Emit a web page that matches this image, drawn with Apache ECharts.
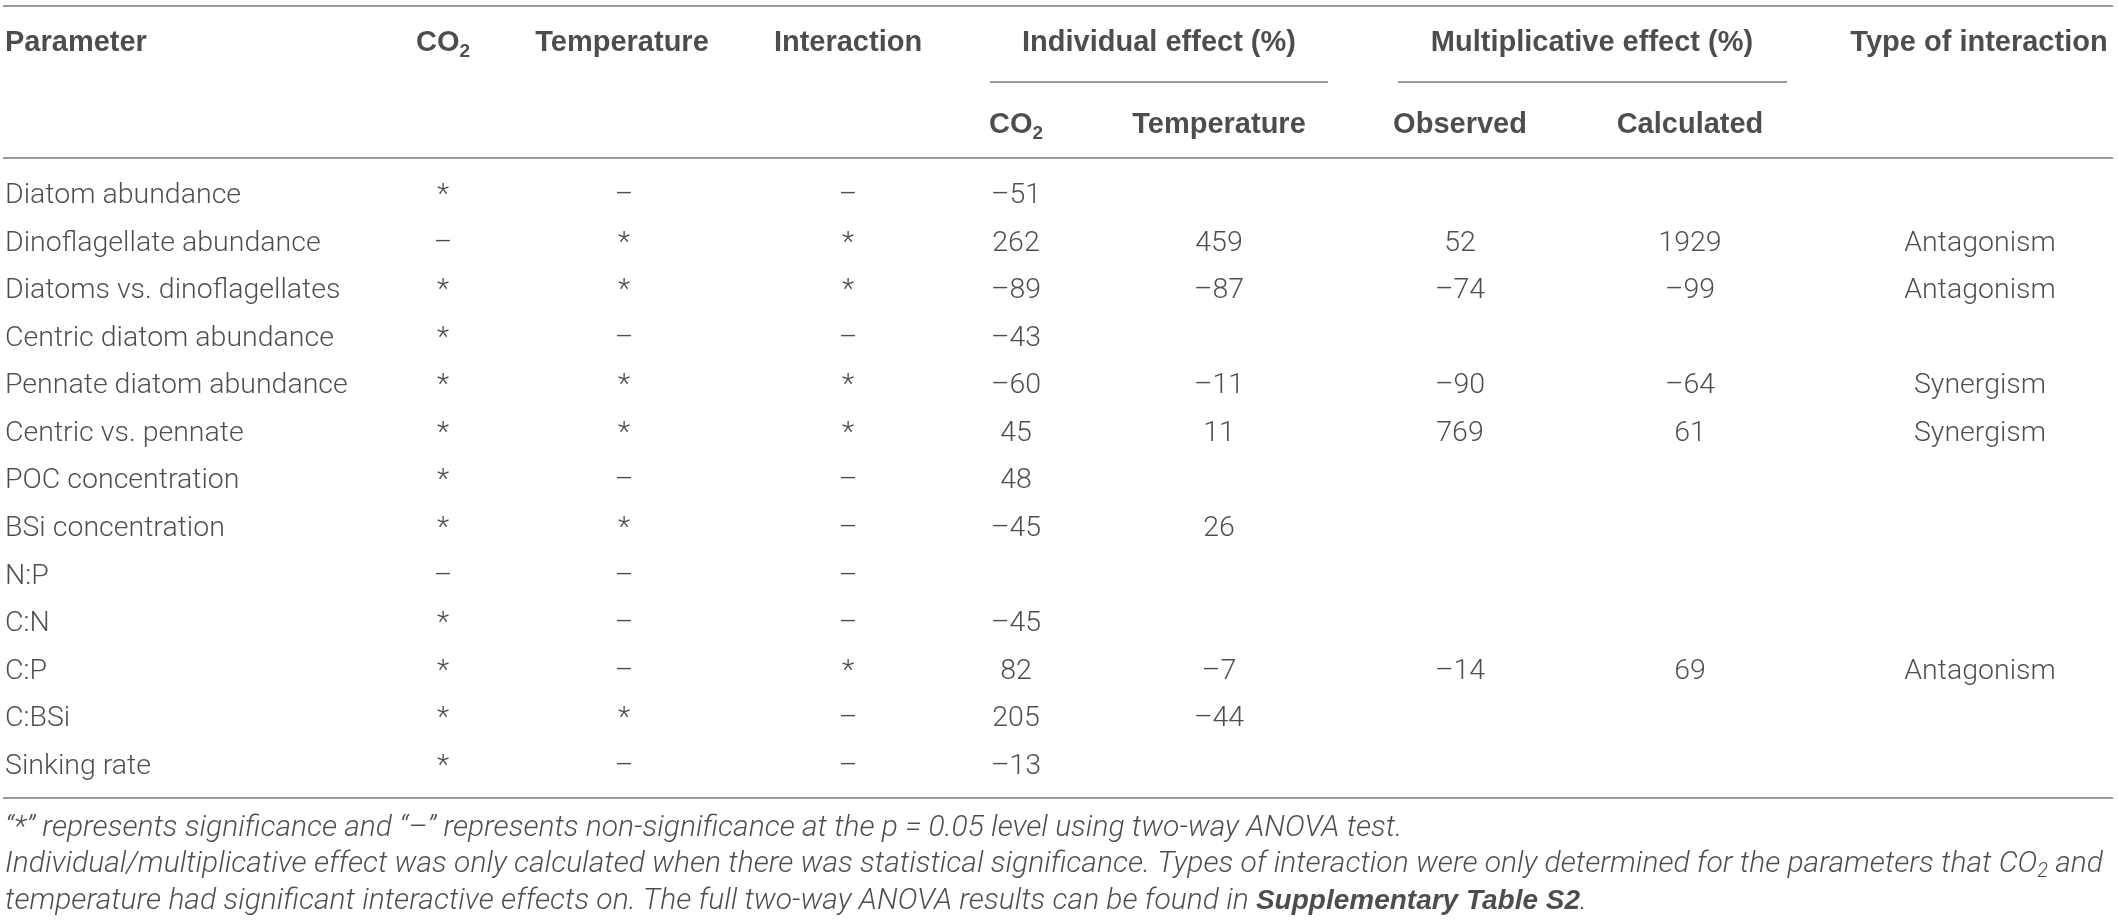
<!DOCTYPE html>
<html>
<head>
<meta charset="utf-8">
<script src="https://cdn.jsdelivr.net/npm/echarts@6/dist/echarts.min.js"></script>
<style>
html,body{margin:0;padding:0;background:#fff;}
#chart{width:2118px;height:921px;}
</style>
</head>
<body>
<div id="chart"></div>
<script>
// ---------- DATA ----------
const parameters = ['Diatom abundance','Dinoflagellate abundance','Diatoms vs. dinoflagellates','Centric diatom abundance','Pennate diatom abundance','Centric vs. pennate','POC concentration','BSi concentration','N:P','C:N','C:P','C:BSi','Sinking rate'];
const sigCO2 = ['*','–','*','*','*','*','*','*','–','*','*','*','*'];
const sigTemp = ['–','*','*','–','*','*','–','*','–','–','–','*','–'];
const sigInteraction = ['–','*','*','–','*','*','–','–','–','–','*','–','–'];
const indivCO2 = [-51,262,-89,-43,-60,45,48,-45,null,-45,82,205,-13];
const indivTemp = [null,459,-87,null,-11,11,null,26,null,null,-7,-44,null];
const multObserved = [null,52,-74,null,-90,769,null,null,null,null,-14,null,null];
const multCalculated = [null,1929,-99,null,-64,61,null,null,null,null,69,null,null];
const interactionType = ['','Antagonism','Antagonism','','Synergism','Synergism','','','','','Antagonism','',''];

const headerTop = ['Parameter','{b|CO}{bs|2}','Temperature','Interaction','Individual effect (%)','Multiplicative effect (%)','Type of interaction'];
const headerSub = ['{b|CO}{bs|2}','Temperature','Observed','Calculated'];
const footnotes = [
  '{i|“*” represents significance and “–” represents non-significance at the p = 0.05 level using two-way ANOVA test.}',
  '{i|Individual/multiplicative effect was only calculated when there was statistical significance. Types of interaction were only determined for the parameters that CO}{is|2}{i| and}',
  '{i|temperature had significant interactive effects on. The full two-way ANOVA results can be found in }{bi|Supplementary Table S2}{i|.}'
];

// ---------- LAYOUT ----------
const W = 2118, H = 921;
const colX = [5, 443, 624, 848, 1016, 1219, 1460, 1690, 1980];
const headerTopX = [5, 443, 622, 848, 1159, 1592, 1979];
const headerSubX = [1016, 1219, 1460, 1690];
const Y_HEAD1 = 43, Y_HEAD2 = 125, ROW0 = 196, ROWSTEP = 47.55;
const footY = [828, 864, 901];
const rules = [
  {x0: 3, x1: 2113, y: 6},
  {x0: 990, x1: 1328, y: 82},
  {x0: 1398, x1: 1787, y: 82},
  {x0: 3, x1: 2113, y: 158},
  {x0: 3, x1: 2113, y: 798}
];

const FONT = '"Liberation Sans", Arial, Helvetica, sans-serif';
const LIGHT = 'Roboto, "Liberation Sans", Arial, sans-serif';
const TXT = '#231f20';

const fmt = v => v == null ? '' : (v < 0 ? '–' + Math.abs(v) : String(v));

const bodyRich = {
  b: {fontFamily: FONT, fontSize: 29, fontWeight: 'bold', color: TXT, lineHeight: 36},
  bs: {fontFamily: FONT, fontSize: 19, fontWeight: 'bold', color: TXT, lineHeight: 22, verticalAlign: 'bottom'},
  i: {fontFamily: LIGHT, fontSize: 30, fontStyle: 'italic', fontWeight: 300, color: TXT, lineHeight: 36},
  is: {fontFamily: LIGHT, fontSize: 20, fontStyle: 'italic', fontWeight: 300, color: TXT, lineHeight: 22, verticalAlign: 'bottom'},
  bi: {fontFamily: FONT, fontSize: 28, fontStyle: 'italic', fontWeight: 'bold', color: TXT, lineHeight: 36}
};

function textItem(x, y, text, align, bold) {
  return {
    value: [x, y],
    label: {
      show: true,
      position: 'inside',
      formatter: text,
      align: align,
      verticalAlign: 'middle',
      fontFamily: bold ? FONT : LIGHT,
      fontSize: bold ? 29 : 28.5,
      fontWeight: bold ? 'bold' : 300,
      color: TXT,
      rich: bodyRich
    }
  };
}

const items = [];
// headers
headerTop.forEach((t, k) => items.push(textItem(headerTopX[k], Y_HEAD1, t, k === 0 ? 'left' : 'center', true)));
headerSub.forEach((t, k) => items.push(textItem(headerSubX[k], Y_HEAD2, t, 'center', true)));
// body rows
const columns = [parameters, sigCO2, sigTemp, sigInteraction,
  indivCO2.map(fmt), indivTemp.map(fmt), multObserved.map(fmt), multCalculated.map(fmt), interactionType];
parameters.forEach((p, i) => {
  const y = ROW0 + i * ROWSTEP;
  columns.forEach((col, c) => {
    const t = col[i];
    if (t === '' || t == null) return;
    items.push(textItem(colX[c], y, t, c === 0 ? 'left' : 'center', false));
  });
});
// footnotes
footnotes.forEach((t, k) => items.push(textItem(colX[0], footY[k], t, 'left', false)));

const chart = echarts.init(document.getElementById('chart'), null, {renderer: 'canvas'});
chart.setOption({
  backgroundColor: '#ffffff',
  animation: false,
  grid: {left: 0, right: 0, top: 0, bottom: 0},
  xAxis: {type: 'value', min: 0, max: W, show: false},
  yAxis: {type: 'value', min: 0, max: H, inverse: true, show: false},
  series: [
    {
      type: 'lines',
      coordinateSystem: 'cartesian2d',
      silent: true,
      lineStyle: {color: '#7a7a7a', width: 1.6, opacity: 1},
      data: rules.map(r => ({coords: [[r.x0, r.y], [r.x1, r.y]]}))
    },
    {
      type: 'scatter',
      symbolSize: 0,
      silent: true,
      data: items
    }
  ]
});
</script>
</body>
</html>
